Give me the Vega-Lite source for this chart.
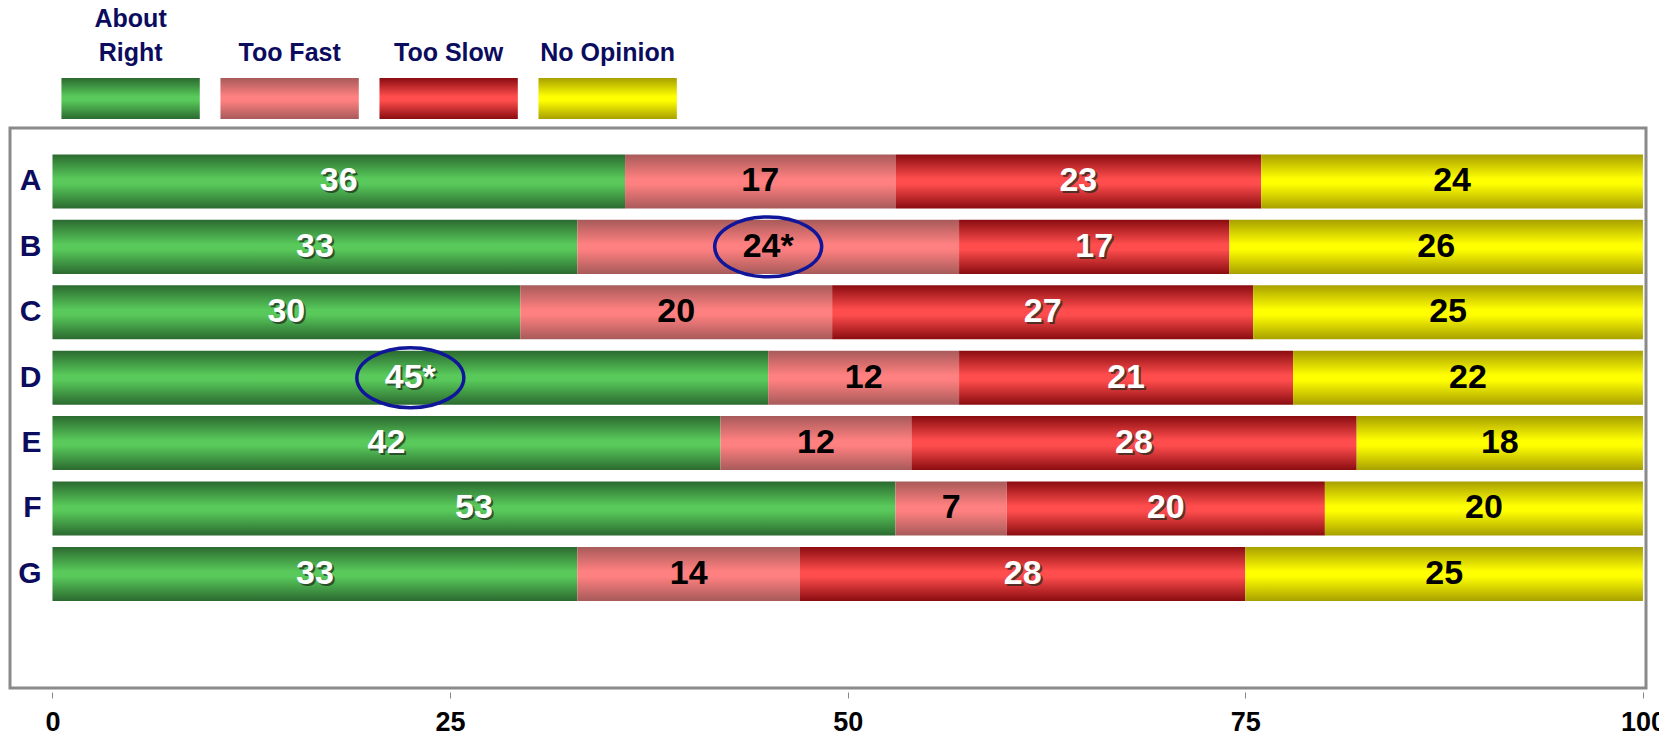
{
  "$schema": "https://vega.github.io/schema/vega-lite/v6.json",
  "background": "white",
  "padding": {"left": 8, "top": 6, "right": 0, "bottom": 0},
  "spacing": 7,
  "config": {"font": "Liberation Sans"},
  "datasets": {
    "survey": [
      {"row": "A", "cat": "About Right", "value": 36, "sig": false},
      {"row": "A", "cat": "Too Fast", "value": 17, "sig": false},
      {"row": "A", "cat": "Too Slow", "value": 23, "sig": false},
      {"row": "A", "cat": "No Opinion", "value": 24, "sig": false},
      {"row": "B", "cat": "About Right", "value": 33, "sig": false},
      {"row": "B", "cat": "Too Fast", "value": 24, "sig": true},
      {"row": "B", "cat": "Too Slow", "value": 17, "sig": false},
      {"row": "B", "cat": "No Opinion", "value": 26, "sig": false},
      {"row": "C", "cat": "About Right", "value": 30, "sig": false},
      {"row": "C", "cat": "Too Fast", "value": 20, "sig": false},
      {"row": "C", "cat": "Too Slow", "value": 27, "sig": false},
      {"row": "C", "cat": "No Opinion", "value": 25, "sig": false},
      {"row": "D", "cat": "About Right", "value": 45, "sig": true},
      {"row": "D", "cat": "Too Fast", "value": 12, "sig": false},
      {"row": "D", "cat": "Too Slow", "value": 21, "sig": false},
      {"row": "D", "cat": "No Opinion", "value": 22, "sig": false},
      {"row": "E", "cat": "About Right", "value": 42, "sig": false},
      {"row": "E", "cat": "Too Fast", "value": 12, "sig": false},
      {"row": "E", "cat": "Too Slow", "value": 28, "sig": false},
      {"row": "E", "cat": "No Opinion", "value": 18, "sig": false},
      {"row": "F", "cat": "About Right", "value": 53, "sig": false},
      {"row": "F", "cat": "Too Fast", "value": 7, "sig": false},
      {"row": "F", "cat": "Too Slow", "value": 20, "sig": false},
      {"row": "F", "cat": "No Opinion", "value": 20, "sig": false},
      {"row": "G", "cat": "About Right", "value": 33, "sig": false},
      {"row": "G", "cat": "Too Fast", "value": 14, "sig": false},
      {"row": "G", "cat": "Too Slow", "value": 28, "sig": false},
      {"row": "G", "cat": "No Opinion", "value": 25, "sig": false}
    ],
    "legend": [
      {"cat": "About Right"},
      {"cat": "Too Fast"},
      {"cat": "Too Slow"},
      {"cat": "No Opinion"}
    ]
  },
  "vconcat": [
    {
      "width": 700,
      "height": 41,
      "data": {"name": "legend"},
      "view": {"stroke": null},
      "mark": {"type": "bar"},
      "encoding": {
        "x": {
          "field": "cat",
          "type": "nominal",
          "sort": ["About Right", "Too Fast", "Too Slow", "No Opinion"],
          "scale": {"paddingInner": 0.13, "paddingOuter": 0.266, "align": 0.608},
          "axis": {
            "orient": "top",
            "title": null,
            "domain": false,
            "ticks": false,
            "labelAngle": 0,
            "labelFontSize": 25,
            "labelFontWeight": "bold",
            "labelColor": "#0c0c5e",
            "labelPadding": 47,
            "labelLineHeight": 34,
            "labelExpr": "datum.label == 'About Right' ? ['About', 'Right'] : ['', datum.label]"
          }
        },
        "fill": {
          "condition": [
            {"test": "datum.cat === 'About Right'", "value": {"gradient": "linear", "x1": 0, "y1": 0, "x2": 0, "y2": 1, "stops": [{"offset": 0, "color": "#2b6a30"}, {"offset": 0.45, "color": "#58c95a"}, {"offset": 0.55, "color": "#58c95a"}, {"offset": 1, "color": "#2b6a30"}]}},
            {"test": "datum.cat === 'Too Fast'", "value": {"gradient": "linear", "x1": 0, "y1": 0, "x2": 0, "y2": 1, "stops": [{"offset": 0, "color": "#a85a5a"}, {"offset": 0.45, "color": "#ff8080"}, {"offset": 0.55, "color": "#ff8080"}, {"offset": 1, "color": "#a85a5a"}]}},
            {"test": "datum.cat === 'Too Slow'", "value": {"gradient": "linear", "x1": 0, "y1": 0, "x2": 0, "y2": 1, "stops": [{"offset": 0, "color": "#8a0c10"}, {"offset": 0.45, "color": "#ff4d4d"}, {"offset": 0.55, "color": "#ff4d4d"}, {"offset": 1, "color": "#8a0c10"}]}}
          ],
          "value": {"gradient": "linear", "x1": 0, "y1": 0, "x2": 0, "y2": 1, "stops": [{"offset": 0, "color": "#a8a000"}, {"offset": 0.45, "color": "#ffff00"}, {"offset": 0.55, "color": "#ffff00"}, {"offset": 1, "color": "#a8a000"}]}
        }
      }
    },
    {
      "width": 1636,
      "height": 560,
      "view": {"stroke": "#8a8a8a", "strokeWidth": 3},
      "data": {"name": "survey"},
      "transform": [
        {"calculate": "indexof(['About Right', 'Too Fast', 'Too Slow', 'No Opinion'], datum.cat)", "as": "ord"},
        {"stack": "value", "groupby": ["row"], "sort": [{"field": "ord", "order": "ascending"}], "offset": "normalize", "as": ["x0", "x1"]},
        {"calculate": "(datum.x0 + datum.x1) / 2", "as": "mid"},
        {"calculate": "datum.value + (datum.sig ? '*' : '')", "as": "label"}
      ],
      "encoding": {
        "y": {
          "field": "row",
          "type": "nominal",
          "scale": {"paddingInner": 0.174, "paddingOuter": 0.868, "align": 0.233},
          "axis": {
            "title": null,
            "domain": false,
            "ticks": false,
            "offset": -33,
            "labelPadding": 2,
            "labelFontSize": 30,
            "labelFontWeight": "bold",
            "labelColor": "#0c0c5e"
          }
        }
      },
      "layer": [
        {
          "mark": {"type": "bar"},
          "encoding": {
            "x": {
              "field": "x0",
              "type": "quantitative",
              "scale": {"domain": [-0.0267, 1.0019], "nice": false, "zero": false},
              "axis": {
                "title": null,
                "grid": false,
                "domain": false,
                "values": [0, 0.25, 0.5, 0.75, 1],
                "labelExpr": "format(datum.value * 100, 'd')",
                "offset": 4,
                "tickSize": 6,
                "tickColor": "#888888",
                "labelPadding": 11,
                "labelFontSize": 27,
                "labelFontWeight": "bold",
                "labelColor": "black"
              }
            },
            "x2": {"field": "x1"},
            "fill": {
              "condition": [
                {"test": "datum.cat === 'About Right'", "value": {"gradient": "linear", "x1": 0, "y1": 0, "x2": 0, "y2": 1, "stops": [{"offset": 0, "color": "#2b6a30"}, {"offset": 0.45, "color": "#58c95a"}, {"offset": 0.55, "color": "#58c95a"}, {"offset": 1, "color": "#2b6a30"}]}},
                {"test": "datum.cat === 'Too Fast'", "value": {"gradient": "linear", "x1": 0, "y1": 0, "x2": 0, "y2": 1, "stops": [{"offset": 0, "color": "#a85a5a"}, {"offset": 0.45, "color": "#ff8080"}, {"offset": 0.55, "color": "#ff8080"}, {"offset": 1, "color": "#a85a5a"}]}},
                {"test": "datum.cat === 'Too Slow'", "value": {"gradient": "linear", "x1": 0, "y1": 0, "x2": 0, "y2": 1, "stops": [{"offset": 0, "color": "#8a0c10"}, {"offset": 0.45, "color": "#ff4d4d"}, {"offset": 0.55, "color": "#ff4d4d"}, {"offset": 1, "color": "#8a0c10"}]}}
              ],
              "value": {"gradient": "linear", "x1": 0, "y1": 0, "x2": 0, "y2": 1, "stops": [{"offset": 0, "color": "#a8a000"}, {"offset": 0.45, "color": "#ffff00"}, {"offset": 0.55, "color": "#ffff00"}, {"offset": 1, "color": "#a8a000"}]}
            }
          }
        },
        {
          "transform": [{"filter": "datum.cat === 'About Right' || datum.cat === 'Too Slow'"}],
          "mark": {"type": "text", "fontSize": 34, "fontWeight": "bold", "dx": 2, "dy": 2, "fill": "#1e2a1e", "opacity": 0.7},
          "encoding": {
            "x": {"field": "mid", "type": "quantitative"},
            "text": {"field": "label"}
          }
        },
        {
          "mark": {"type": "text", "fontSize": 34, "fontWeight": "bold"},
          "encoding": {
            "x": {"field": "mid", "type": "quantitative"},
            "text": {"field": "label"},
            "fill": {
              "condition": {"test": "datum.cat === 'About Right' || datum.cat === 'Too Slow'", "value": "white"},
              "value": "black"
            }
          }
        },
        {
          "transform": [{"filter": "datum.sig"}],
          "mark": {
            "type": "point",
            "shape": "M-1,0 A1,0.56 0 1,1 1,0 A1,0.56 0 1,1 -1,0 Z",
            "size": 11449,
            "filled": false,
            "stroke": "#10169a",
            "strokeWidth": 3.5,
            "opacity": 1
          },
          "encoding": {
            "x": {"field": "mid", "type": "quantitative"}
          }
        }
      ]
    }
  ]
}
